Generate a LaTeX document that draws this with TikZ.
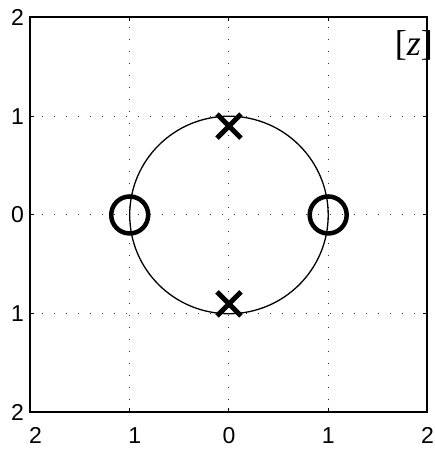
\documentclass[tikz,border=0pt]{standalone}
\usepackage{fontspec}
\setmainfont{Liberation Sans}
\newfontfamily\labelserif{Liberation Serif}
\begin{document}
\begin{tikzpicture}[
    x=99.25pt, y=98.75pt,
    axisline/.style={line width=2pt},
    gridline/.style={line width=1pt, dash pattern=on 1pt off 11pt, black!80},
    tickline/.style={line width=1pt},
    unitcirc/.style={line width=1.3pt},
    zeromark/.style={line width=4.5pt},
    polemark/.style={line width=5pt},
    ticklabel/.style={inner sep=0pt, font=\fontsize{23}{23}\selectfont}
]
\useasboundingbox (-2.307,-2.370) rectangle (2.076,2.177);

% grid
\foreach \t in {-1,0,1} {
    \draw[gridline] (\t,-2) -- (\t,2);
    \draw[gridline] (-2,\t) -- (2,\t);
}

% unit circle
\draw[unitcirc] (0,0) circle[x radius=1, y radius=1];

% ticks
\foreach \t in {-1,0,1} {
    \draw[tickline] (\t,-2) -- ++(0,4pt);
    \draw[tickline] (\t,2) -- ++(0,-4pt);
    \draw[tickline] (-2,\t) -- ++(4pt,0);
    \draw[tickline] (2,\t) -- ++(-4pt,0);
}

% box
\draw[axisline] (-2,-2) rectangle (2,2);

% tick labels
\foreach \t/\s/\dx in {-2/2/5pt,-1/1/5pt,0/0/0pt,1/1/0pt,2/2/0pt} {
    \node[ticklabel, anchor=base, xshift=\dx] (xl\s\t) at (\t,-2.315) {\s};
    \node[ticklabel, anchor=east] (yl\s\t) at (-2.065,\t) {\s};
}

% zeros and poles
\foreach \zx in {-1,1}
    \draw[zeromark] (\zx,0) circle[radius=18.5pt];
\foreach \py in {-0.9,0.9} {
    \draw[polemark] (0,\py) ++(-12pt,-12pt) -- ++(24pt,24pt);
    \draw[polemark] (0,\py) ++(-12pt,12pt) -- ++(24pt,-24pt);
}

\node[inner sep=0pt, anchor=base, font=\labelserif\fontsize{36}{36}\selectfont]
    (zlabel) at (1.864,1.62) {[\textit{z}]};
\end{tikzpicture}
\end{document}
